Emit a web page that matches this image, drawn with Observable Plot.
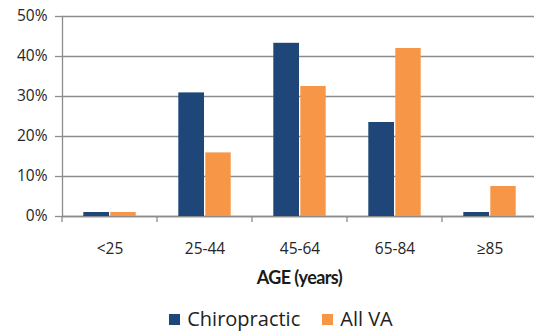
<!DOCTYPE html>
<html>
<head>
<meta charset="utf-8">
<script src="https://cdn.jsdelivr.net/npm/d3@7"></script>
<script src="https://cdn.jsdelivr.net/npm/@observablehq/plot@0.6"></script>
<style>
  html, body { margin: 0; padding: 0; background: #fff; }
  body { width: 534px; height: 333px; overflow: hidden; font-family: "Open Sans", sans-serif; }
  #legend { display: flex; justify-content: center; align-items: center; gap: 22px; font-size: 20px; color: #222; padding-left: 28px; margin-top: 10px; line-height: 22px; }
  #legend .item { display: flex; align-items: center; }
  #legend .sw { width: 11px; height: 11px; margin-right: 7px; display: inline-block; }
</style>
</head>
<body>
<div id="chart"></div>
<div id="legend"></div>
<script>
const categories = ["<25", "25-44", "45-64", "65-84", "≥85"];
const series = ["Chiropractic", "All VA"];
const chiropractic = [1.0, 30.9, 43.3, 23.5, 1.0];
const allVA = [1.0, 15.9, 32.5, 42.0, 7.5];
const yTicks = [0, 10, 20, 30, 40, 50];
const xTitle = "AGE (years)";
const colors = ["#1f4678", "#f79646"];
const gridColor = "#8c8c8c";

const chiroData = categories.map((c, i) => ({age: c, value: chiropractic[i]}));
const vaData = categories.map((c, i) => ({age: c, value: allVA[i]}));

function bandEdges(x) {
  return categories.map(c => x(c)).concat([x(categories[categories.length - 1]) + x.bandwidth()]);
}

const boundaryTicks = (index, scales) => {
  const g = d3.create("svg:g").attr("stroke", gridColor).attr("stroke-width", 1.3);
  const y0 = scales.y(0);
  for (const xv of bandEdges(scales.x)) {
    g.append("line").attr("x1", xv).attr("x2", xv).attr("y1", y0).attr("y2", y0 + 6);
  }
  return g.node();
};

const axisTitle = (index, scales) => {
  const edges = bandEdges(scales.x);
  const cx = (edges[0] + edges[edges.length - 1]) / 2;
  const t = d3.create("svg:text")
    .attr("x", cx)
    .attr("y", scales.y(0) + 68)
    .attr("text-anchor", "middle")
    .attr("font-family", "Lato, sans-serif")
    .attr("font-size", 18)
    .attr("font-weight", "bold")
    .attr("letter-spacing", "-0.6")
    .attr("fill", "#1a1a1a")
    .text(xTitle);
  return t.node();
};

const chart = Plot.plot({
  width: 534,
  height: 298,
  marginTop: 16,
  marginBottom: 82,
  marginLeft: 62,
  marginRight: -3,
  style: {fontFamily: "'Open Sans', sans-serif", background: "#fff"},
  x: {domain: categories, padding: 0},
  y: {domain: [0, 50], range: [216, 16]},
  marks: [
    Plot.gridY(yTicks, {stroke: gridColor, strokeOpacity: 1, strokeWidth: 1.3}),
    Plot.ruleY([0], {stroke: gridColor, strokeWidth: 1.3}),
    Plot.frame({anchor: "left", stroke: gridColor, strokeWidth: 1.3}),
    Plot.barY(chiroData, {x: "age", y: "value", fill: colors[0], insetLeft: 21.3, insetRight: 48}),
    Plot.barY(vaData, {x: "age", y: "value", fill: colors[1], insetLeft: 48.3, insetRight: 21.3}),
    boundaryTicks,
    Plot.axisY({ticks: yTicks, tickFormat: d => d + "%", tickSize: 7, tickPadding: 8, stroke: gridColor, strokeWidth: 1.3, fontSize: 15.5, color: "#262626", label: null}),
    Plot.axisX({tickSize: 0, tickPadding: 26, fontSize: 15.5, color: "#262626", label: null}),
    axisTitle
  ]
});
document.getElementById("chart").appendChild(chart);

const legend = document.getElementById("legend");
series.forEach((s, i) => {
  const item = document.createElement("div");
  item.className = "item";
  const sw = document.createElement("span");
  sw.className = "sw";
  sw.style.background = colors[i];
  item.appendChild(sw);
  item.appendChild(document.createTextNode(s));
  legend.appendChild(item);
});
</script>
</body>
</html>
